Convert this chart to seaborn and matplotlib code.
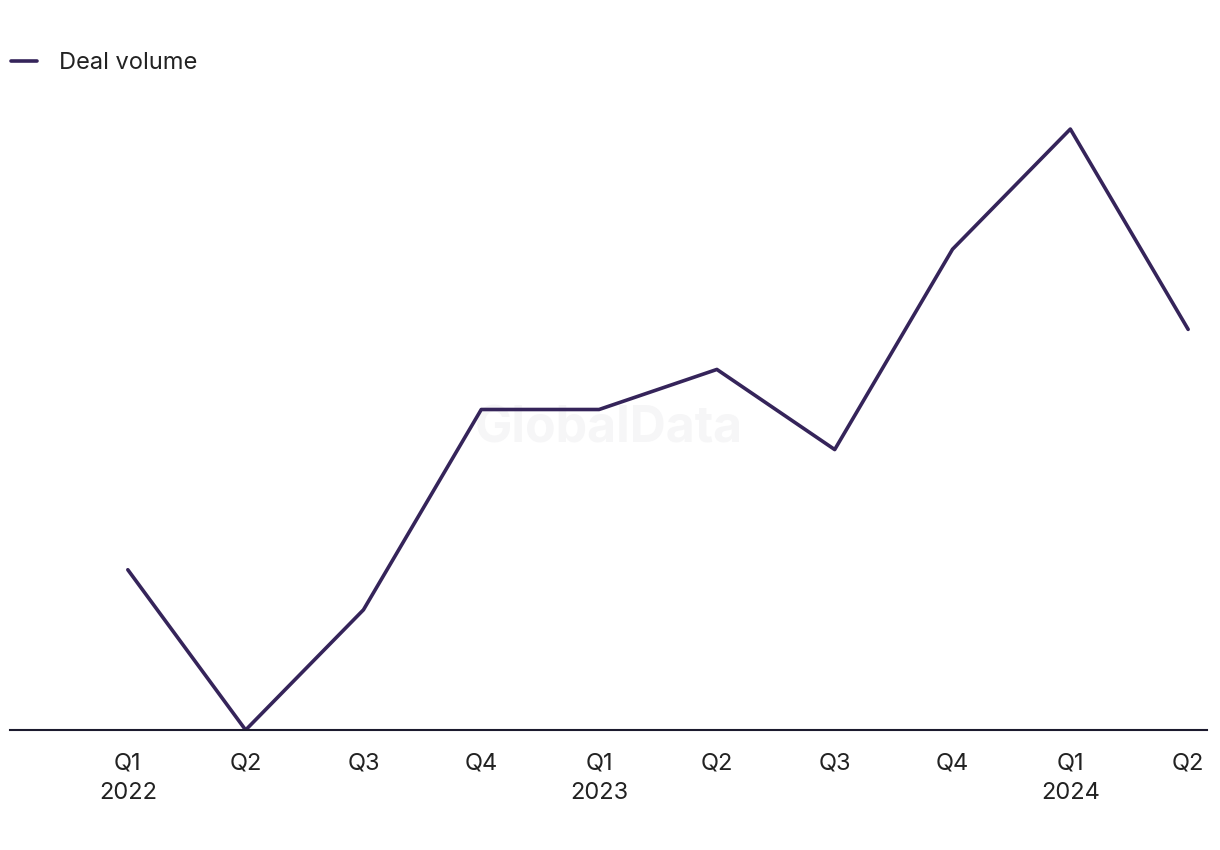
import matplotlib
matplotlib.use("Agg")
import matplotlib.pyplot as plt
import seaborn as sns
import pandas as pd

quarters = ["Q1\n2022", "Q2", "Q3", "Q4", "Q1\n2023", "Q2", "Q3", "Q4", "Q1\n2024", "Q2"]
deal_volume = [4, 0, 3, 8, 8, 9, 7, 12, 15, 10]

sns.set_theme(style="white")
plt.rcParams['font.family'] = ['Inter', 'DejaVu Sans']

df = pd.DataFrame({"idx": range(len(quarters)), "Deal volume": deal_volume})

fig = plt.figure(figsize=(12.2, 8.5), dpi=100)
ax = fig.add_axes([10/1220, 120/850, 1197/1220, 641/850])

line_color = "#35245a"
sns.lineplot(data=df, x="idx", y="Deal volume", ax=ax, color=line_color,
             linewidth=2.6, label="Deal volume")

ax.set_xlim(-1.0, 9.16)
ax.set_ylim(0, 16)
ax.set_xticks(range(len(quarters)))
ax.set_xticklabels(quarters, fontsize=17, color="#222222", linespacing=1.45)
ax.tick_params(axis="x", length=0, pad=16)
ax.set_yticks([])
ax.set_xlabel("")
ax.set_ylabel("")
for s in ["top", "right", "left"]:
    ax.spines[s].set_visible(False)
ax.spines["bottom"].set_color("#1c1a2e")
ax.spines["bottom"].set_linewidth(1.5)

ax.text(0.5, 0.47, "GlobalData", transform=ax.transAxes, ha="center", va="center",
        fontsize=36, fontweight="bold", color="#f6f6f7", zorder=0)

leg = ax.legend(loc="upper left", bbox_to_anchor=(-0.007, 1.072), frameon=False,
                fontsize=17, handlelength=1.1, handletextpad=0.95, borderaxespad=0)
for t in leg.get_texts():
    t.set_color("#222222")

fig.savefig("out.png", dpi=100)
